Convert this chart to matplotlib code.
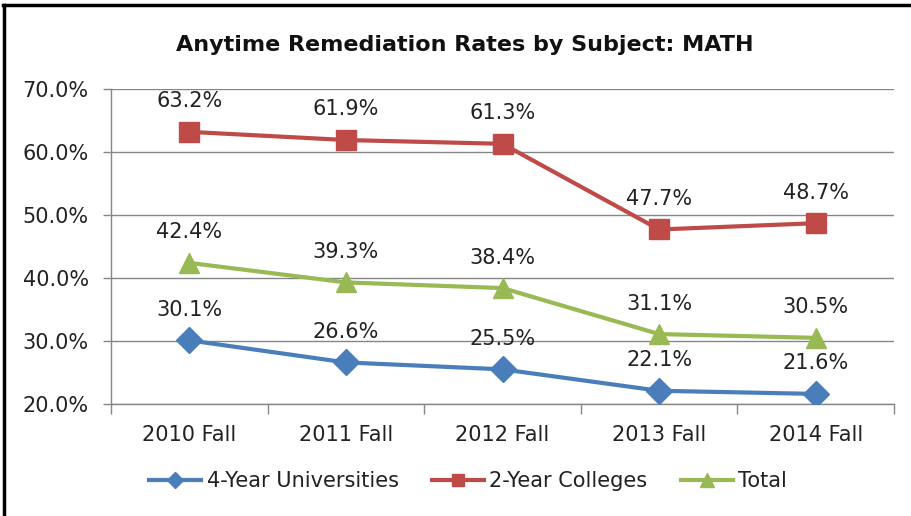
import matplotlib
matplotlib.use("Agg")
import matplotlib.pyplot as plt
from matplotlib.lines import Line2D
import numpy as np

categories = ["2010 Fall", "2011 Fall", "2012 Fall", "2013 Fall", "2014 Fall"]
univ = [30.1, 26.6, 25.5, 22.1, 21.6]
college = [63.2, 61.9, 61.3, 47.7, 48.7]
total = [42.4, 39.3, 38.4, 31.1, 30.5]
yticks = [20, 30, 40, 50, 60, 70]
title = "Anytime Remediation Rates by Subject: MATH"

FS = 15
fig = plt.figure(figsize=(9.11, 5.16), dpi=100)
ax = fig.add_axes([111/911, 1-404/516, (894-111)/911, (404-89)/516])

x = np.arange(len(categories)) + 0.5
series = [
    ("4-Year Universities", univ, "#4A7EBB", "D", 13),
    ("2-Year Colleges", college, "#BE4B48", "s", 14),
    ("Total", total, "#98B954", "^", 15),
]
for name, vals, col, mk, ms in series:
    ax.plot(x, vals, color=col, lw=3, marker=mk, markersize=ms, label=name, zorder=3)
    for xi, v in zip(x, vals):
        ax.annotate(f"{v:.1f}%", (xi, v), xytext=(0, 22), textcoords="offset points",
                    ha="center", va="center", fontsize=FS, color="#222222",
                    family="DejaVu Sans")

ax.set_xlim(0, len(categories))
ax.set_ylim(20, 70)
ax.set_yticks(yticks)
ax.set_yticklabels([f"{t:.1f}%" for t in yticks], fontsize=FS, color="#222222")
ax.set_xticks(x)
ax.set_xticklabels(categories, fontsize=FS, color="#222222")
ax.set_xticks(np.arange(len(categories) + 1), minor=True)
ax.tick_params(axis="x", which="major", length=0, pad=15)
ax.tick_params(axis="x", which="minor", length=7, color="#868686", width=1)
ax.tick_params(axis="y", length=6, color="#868686", width=1, pad=10)
ax.grid(axis="y", color="#868686", lw=1)
ax.set_axisbelow(True)
for s in ["top", "right"]:
    ax.spines[s].set_visible(False)
for s in ["left", "bottom"]:
    ax.spines[s].set_color("#868686")
    ax.spines[s].set_linewidth(1)

fig.text(465/911, 1-45/516, title, ha="center", va="center", fontsize=16,
         fontweight="bold", family="DejaVu Sans", color="#111111")

leg = fig.legend(loc="center", bbox_to_anchor=(468/911, 1-481/516), ncol=3, frameon=False,
                 fontsize=FS, handlelength=2.5, columnspacing=1.6, handletextpad=0.25,
                 labelcolor="#222222", markerscale=0.65)

fig.add_artist(Line2D([4/911, 4/911], [0, 1-5/516], transform=fig.transFigure, color="black", lw=2.5))
fig.add_artist(Line2D([3/911, 1], [1-5/516, 1-5/516], transform=fig.transFigure, color="black", lw=2.5))

fig.savefig("out.png", dpi=100)
